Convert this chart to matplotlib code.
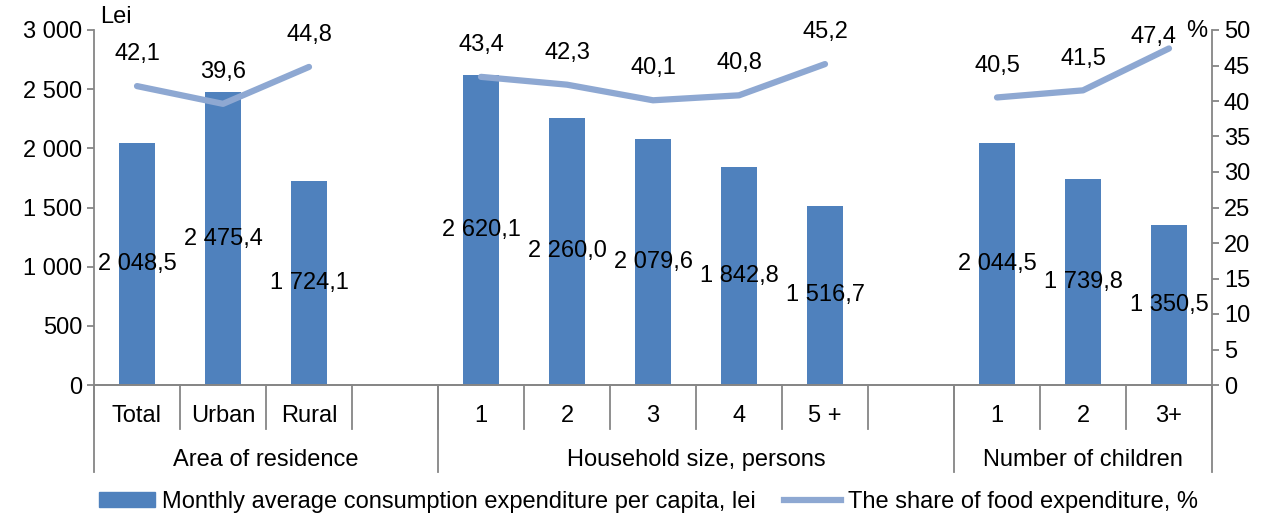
import numpy as np
import matplotlib.pyplot as plt
from matplotlib.patches import Patch
from matplotlib.lines import Line2D
import matplotlib.transforms as mtransforms

plt.rcParams['font.family'] = ['Liberation Sans', 'DejaVu Sans']
plt.rcParams['font.size'] = 17

# categories (blank slots separate the groups)
categories = ['Total', 'Urban', 'Rural', '', '1', '2', '3', '4', '5 +', '', '1', '2', '3+']
groups = ['Area of residence', 'Household size, persons', 'Number of children']
group_sizes = [4, 6, 3]

# monthly average consumption expenditure per capita, lei
expenditure = [2048.5, 2475.4, 1724.1, np.nan,
               2620.1, 2260.0, 2079.6, 1842.8, 1516.7, np.nan,
               2044.5, 1739.8, 1350.5]
# share of food expenditure, %
food_share = [42.1, 39.6, 44.8, np.nan,
              43.4, 42.3, 40.1, 40.8, 45.2, np.nan,
              40.5, 41.5, 47.4]

bar_color = '#4F81BD'
line_color = '#8EA8D2'
grey = '#868686'
fs = 17


def fmt(v, dec=1):
    return f"{v:,.{dec}f}".replace(',', ' ').replace('.', ',')


fig = plt.figure(figsize=(12.64, 5.17), dpi=100)
ax = fig.add_axes([94 / 1264, 1 - 385 / 517, (1212 - 94) / 1264, 355 / 517])
ax2 = ax.twinx()

x = np.arange(len(categories))
exp = np.array(expenditure)
ok = ~np.isnan(exp)
ax.bar(x[ok], exp[ok], width=0.42, color=bar_color, zorder=2)
for xi, v in zip(x[ok], exp[ok]):
    ax.text(xi, v / 2, fmt(v), ha='center', va='center', fontsize=fs)

ax2.plot(x, food_share, color=line_color, lw=4.5, solid_capstyle='round', zorder=3)
last = max(i for i, v in enumerate(food_share) if not np.isnan(v))
for i, (xi, v) in enumerate(zip(x, food_share)):
    if np.isnan(v):
        continue
    # last label is pushed inside the plot area, like the original
    off = (-11, 0) if i == last else (0, 15)
    ax2.annotate(fmt(v), (xi, v), xytext=off, textcoords='offset points',
                 ha='center', va='bottom', fontsize=fs)

ax.set_xlim(-0.5, len(categories) - 0.5)
ax.set_ylim(0, 3000)
ax2.set_ylim(0, 50)
ax.set_yticks(range(0, 3001, 500))
ax.set_yticklabels([fmt(t, 0) for t in range(0, 3001, 500)])
ax2.set_yticks(range(0, 51, 5))

for a in (ax, ax2):
    a.spines['top'].set_visible(False)
    for s in a.spines.values():
        s.set_color(grey)
        s.set_linewidth(1.3)
    a.tick_params(axis='y', colors=grey, labelcolor='black', length=5, width=1.3,
                  labelsize=fs)
ax.spines['right'].set_visible(False)
ax2.spines['left'].set_visible(False)
ax.set_xticks([])

# two-level category axis
tr = mtransforms.blended_transform_factory(ax.transData, ax.transAxes)
row1 = -44 / 355
row2 = -87 / 355
for xi, c in zip(x, categories):
    ax.text(xi, -31 / 355, c, transform=tr, ha='center', va='center', fontsize=fs)
for b in np.arange(len(categories) + 1) - 0.5:
    ax.plot([b, b], [0, row1], transform=tr, color=grey, lw=1.3, clip_on=False)
start = -0.5
for g, n in zip(groups, group_sizes):
    ax.plot([start, start], [0, row2], transform=tr, color=grey, lw=1.3, clip_on=False)
    ax.text(start + n / 2, -75 / 355, g, transform=tr, ha='center', va='center', fontsize=fs)
    start += n
ax.plot([start, start], [0, row2], transform=tr, color=grey, lw=1.3, clip_on=False)

fig.text(100 / 1264, 1 - 17 / 517, 'Lei', ha='left', va='center', fontsize=fs)
fig.text(1197 / 1264, 1 - 31 / 517, '%', ha='center', va='center', fontsize=fs)

handles = [Patch(color=bar_color), Line2D([], [], color=line_color, lw=4.5)]
labels = ['Monthly average consumption expenditure per capita, lei',
          'The share of food expenditure, %']
fig.legend(handles, labels, loc='center', bbox_to_anchor=(0.513, 15 / 517), ncol=2,
           frameon=False, fontsize=fs, handlelength=2.4, handleheight=0.6,
           columnspacing=1.2, handletextpad=0.3, borderaxespad=0)

fig.savefig('out.png', dpi=100)
